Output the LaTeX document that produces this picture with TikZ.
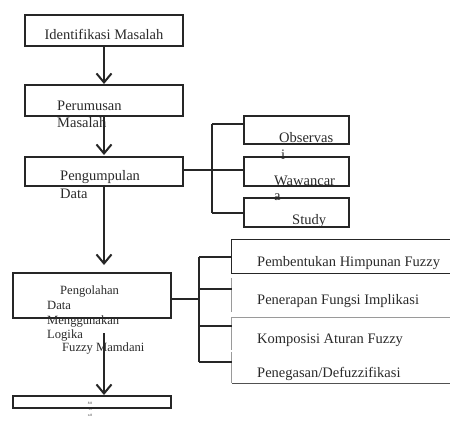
\documentclass[tikz,border=0pt]{standalone}
\usepackage{fontspec}
\setmainfont{Liberation Serif}
\usetikzlibrary{arrows.meta,calc}
\definecolor{boxc}{HTML}{262626}
\definecolor{txtc}{HTML}{2A2A2A}
\definecolor{arrc}{HTML}{262626}
\definecolor{lightc}{HTML}{9A9A9A}
\begin{document}
\begin{tikzpicture}[x=1pt,y=-1pt,
  box/.style={draw=boxc,line width=1.2pt,inner sep=0pt},
  area/.style={inner sep=0pt},
  txt/.style={anchor=base west,inner sep=0pt,text=txtc,font=\fontsize{14.5}{17}\selectfont},
  stxt/.style={txt,font=\fontsize{12.6}{14}\selectfont},
  tiny/.style={anchor=base,inner sep=0pt,text=txtc,font=\fontsize{3.5}{3.5}\selectfont},
  conn/.style={draw=boxc,line width=1.2pt},
  lconn/.style={draw=lightc,line width=1.2pt},
  flow/.style={draw=arrc,line width=2pt,-{Straight Barb[length=9pt,width=15pt]}}
]
\useasboundingbox (0,0) rectangle (450,423);

% main column boxes
\node[box,minimum width=158pt,minimum height=31pt] (b1) at (104,30.5) {};
\node[box,minimum width=158pt,minimum height=31pt] (b2) at (104,100.5) {};
\node[box,minimum width=158pt,minimum height=29pt] (b3) at (104,171.5) {};
\node[box,minimum width=158pt,minimum height=45pt] (b4) at (92,295.5) {};
\node[box,minimum width=158pt,minimum height=12pt] (b5) at (92,402) {};

% texts of the main column
\node[txt,anchor=base] (t1) at (104,39) {Identifikasi Masalah};
\node[txt] (t2a) at (57,110) {Perumusan};
\node[txt] (t2b) at (57,127) {Masalah};
\node[txt] (t3a) at (60,180) {Pengumpulan};
\node[txt] (t3b) at (60,198) {Data};
\node[stxt] (t4a) at (60,294) {Pengolahan};
\node[stxt] (t4b) at (47,309) {Data};
\node[stxt] (t4c) at (47,324) {Menggunakan};
\node[stxt] (t4d) at (47,338) {Logika};
\node[stxt] (t4e) at (62,351) {Fuzzy Mamdani};
\node[tiny] (t5a) at (90,404.5) {8 8};
\node[tiny] (t5b) at (90,410.5) {19};
\node[tiny] (t5c) at (90,416.5) {n 8};

% flow arrows
\coordinate (a1) at (104,84);
\coordinate (a2) at (104,155);
\coordinate (a3) at (104,265);
\coordinate (a4s) at (104,333);
\coordinate (a4) at (104,395);
\draw[flow] (b1.south) -- (a1);
\draw[flow] (b2.south) -- (a2);
\draw[flow] (b3.south) -- (a3);
\draw[flow] (a4s) -- (a4);

% data collection boxes
\node[box,minimum width=105pt,minimum height=28pt] (o1) at (296.5,130) {};
\node[box,minimum width=105pt,minimum height=29pt] (o2) at (296.5,171.5) {};
\node[box,minimum width=105pt,minimum height=29pt] (o3) at (296.5,212.5) {};
\node[txt] (to1a) at (279,142) {Observas};
\node[txt] (to1b) at (281,159) {i};
\node[txt] (to2a) at (274,185) {Wawancar};
\node[txt] (to2b) at (274,200) {a};
\node[txt] (to3) at (292,224) {Study};

\coordinate (j1) at (212,124);
\coordinate (j3) at (212,213);
\draw[conn] (b3.east |- 0,170) -- (o2.west |- 0,170);
\draw[conn] (j1) -- (j3);
\draw[conn] (j1) -- (j1 -| o1.west);
\draw[conn] (j3) -- (j3 -| o3.west);

% fuzzy steps
\node[area,minimum width=218pt,minimum height=33pt] (f1) at (341,256.5) {};
\node[area,minimum width=218pt,minimum height=34pt] (f2) at (341,295) {};
\node[area,minimum width=218pt,minimum height=32pt] (f3) at (341,334) {};
\node[area,minimum width=218pt,minimum height=31pt] (f4) at (341,367.5) {};
\draw[conn] (f1.north east) -- (f1.north west) -- (f1.south west) -- (f1.south east);
\draw[lconn] (f2.north west) -- (f2.south west);
\draw[lconn] (f3.north east) -- (f3.north west) -- (f3.south west);
\draw[lconn] (f4.north west) -- (f4.south west);
\draw[draw=boxc!80,line width=1.2pt] (f4.south west) -- (f4.south east);
\node[txt] (tf1) at (257,266) {Pembentukan Himpunan Fuzzy};
\node[txt] (tf2) at (257,304) {Penerapan Fungsi Implikasi};
\node[txt] (tf3) at (257,343) {Komposisi Aturan Fuzzy};
\node[txt] (tf4) at (257,377) {Penegasan/Defuzzifikasi};

\coordinate (k0) at (199,299);
\coordinate (k1) at (199,257);
\coordinate (k2) at (199,289);
\coordinate (k3) at (199,326);
\coordinate (k4) at (199,362);
\draw[conn] (b4.east |- k0) -- (k0);
\draw[conn] (k1) -- (k4);
\draw[conn] (k1) -- (k1 -| f1.west);
\draw[conn] (k2) -- (k2 -| f2.west);
\draw[conn] (k3) -- (k3 -| f3.west);
\draw[conn] (k4) -- (k4 -| f4.west);
\end{tikzpicture}
\end{document}
